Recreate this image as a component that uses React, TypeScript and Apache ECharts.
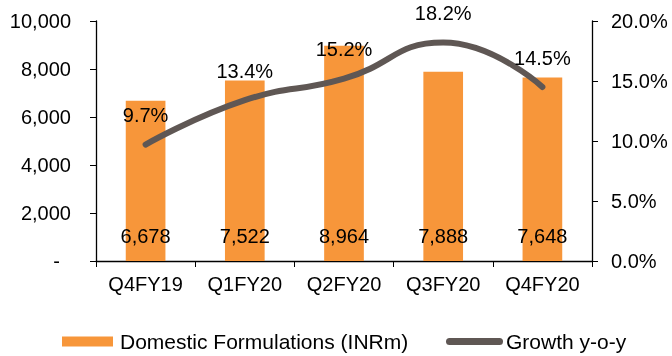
import React, { useEffect, useRef } from "react";
import * as echarts from "echarts";

const quarters = ["Q4FY19", "Q1FY20", "Q2FY20", "Q3FY20", "Q4FY20"];
const domesticFormulations = [6678, 7522, 8964, 7888, 7648];
const growthYoY = [9.7, 13.4, 15.2, 18.2, 14.5];

const BAR_COLOR = "#F7963A";
const LINE_COLOR = "#5F5754";
const FONT = "'Liberation Sans', Arial, sans-serif";
const FS = 20;

export default function App() {
  const ref = useRef<HTMLDivElement>(null);

  useEffect(() => {
    if (!ref.current) return;
    const chart = echarts.init(ref.current, null, { renderer: "svg" });
    const text = { color: "#000", fontFamily: FONT, fontSize: FS };
    const legendText = { ...text, fontSize: 21 };

    chart.setOption({
      animation: false,
      textStyle: { fontFamily: FONT },
      grid: { left: 96, right: 80, top: 21, bottom: 95 },
      legend: [
        {
          left: 62,
          top: 331,
          padding: 0,
          itemWidth: 51,
          itemHeight: 10,
          icon: "rect",
          data: ["Domestic Formulations (INRm)"],
          textStyle: { ...legendText, padding: [0, 0, 0, 2] },
        },
        {
          left: 446,
          top: 331,
          padding: 0,
          itemWidth: 57,
          itemHeight: 7,
          icon: "path://M3.5,0 H53.5 A3.5,3.5 0 0 1 53.5,7 H3.5 A3.5,3.5 0 0 1 3.5,0 Z",
          data: ["Growth y-o-y"],
          textStyle: { ...legendText, padding: [0, 0, 0, -2] },
        },
      ],
      xAxis: {
        type: "category",
        data: quarters,
        axisLine: { lineStyle: { color: "#000", width: 1.3 } },
        axisTick: { show: true, length: 6, lineStyle: { color: "#000" } },
        axisLabel: { ...text, margin: 13 },
      },
      yAxis: [
        {
          type: "value",
          min: 0,
          max: 10000,
          interval: 2000,
          splitLine: { show: false },
          axisLine: { show: true, lineStyle: { color: "#000", width: 1.3 } },
          axisTick: { show: true, length: 6, lineStyle: { color: "#000" } },
          axisLabel: {
            ...text,
            margin: 25,
            formatter: (v: number) =>
              v === 0 ? "{d|-}" : v.toLocaleString("en-US"),
            rich: { d: { ...text, padding: [0, 11, 0, 0] } },
          },
        },
        {
          type: "value",
          min: 0,
          max: 20,
          interval: 5,
          splitLine: { show: false },
          axisLine: { show: true, lineStyle: { color: "#000", width: 1.3 } },
          axisTick: { show: true, length: 6, lineStyle: { color: "#000" } },
          axisLabel: {
            ...text,
            margin: 19,
            formatter: (v: number) => v.toFixed(1) + "%",
          },
        },
      ],
      series: [
        {
          name: "Domestic Formulations (INRm)",
          type: "bar",
          data: domesticFormulations,
          barWidth: "40%",
          itemStyle: { color: BAR_COLOR },
          label: {
            show: true,
            position: "insideBottom",
            distance: 15,
            ...text,
            formatter: (p: any) => Number(p.value).toLocaleString("en-US"),
          },
        },
        {
          name: "Growth y-o-y",
          type: "line",
          yAxisIndex: 1,
          data: growthYoY,
          smooth: 0.5,
          showSymbol: true,
          symbol: "circle",
          symbolSize: 1,
          itemStyle: { color: LINE_COLOR },
          lineStyle: { color: LINE_COLOR, width: 6, cap: "round" },
          label: {
            show: true,
            position: "top",
            distance: 19,
            ...text,
            formatter: (p: any) => Number(p.value).toFixed(1) + "%",
          },
        },
      ],
    });

    return () => chart.dispose();
  }, []);

  return (
    <div
      ref={ref}
      style={{ position: "fixed", left: 0, top: 0, width: 672, height: 356 }}
    />
  );
}
